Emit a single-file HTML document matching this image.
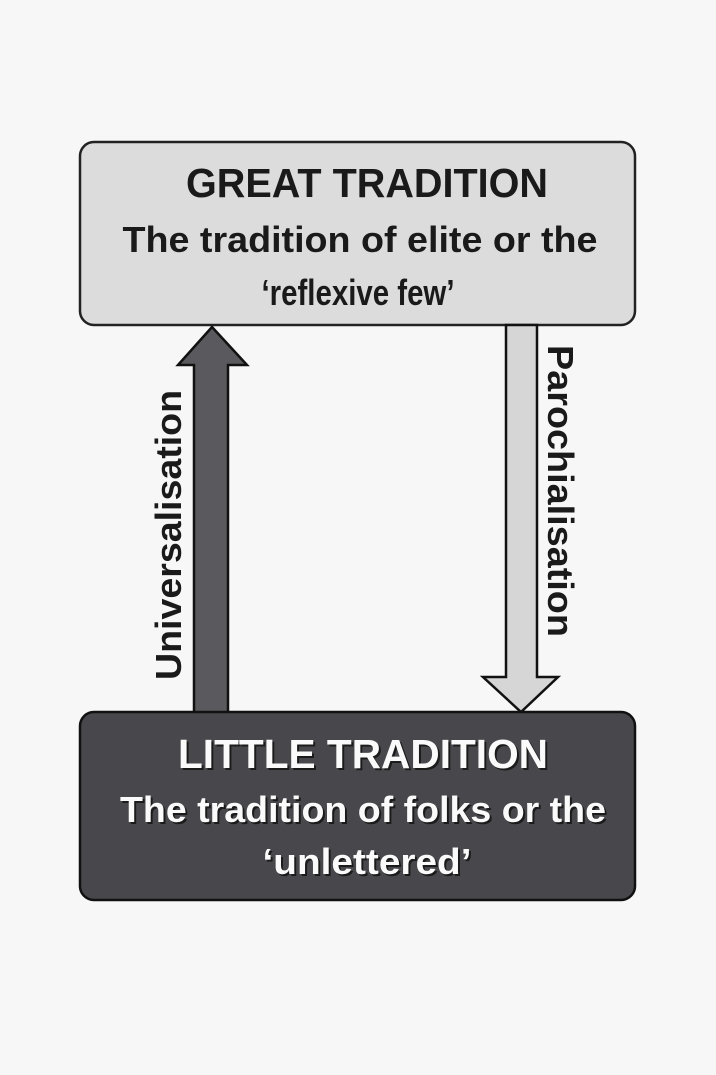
<!DOCTYPE html>
<html><head><meta charset="utf-8"><style>
html,body{margin:0;padding:0;background:#f7f7f7;}
svg{display:block;}
text{font-family:"Liberation Sans",sans-serif;font-weight:bold;}
</style></head><body>
<svg width="716" height="1075" viewBox="0 0 716 1075" xmlns="http://www.w3.org/2000/svg">
<rect width="716" height="1075" fill="#f7f7f7"/>
<!-- top box -->
<rect x="80" y="142" width="555" height="183" rx="14" fill="#dcdcdc" stroke="#222" stroke-width="2.5"/>
<text x="367" y="197" font-size="41" text-anchor="middle" fill="#1a1a1a" textLength="362" lengthAdjust="spacingAndGlyphs">GREAT TRADITION</text>
<text x="360" y="252" font-size="36" text-anchor="middle" fill="#1a1a1a" textLength="475" lengthAdjust="spacingAndGlyphs">The tradition of elite or the</text>
<text x="358" y="305" font-size="36" text-anchor="middle" fill="#1a1a1a" textLength="193" lengthAdjust="spacingAndGlyphs">‘reflexive few’</text>
<!-- up arrow -->
<polygon points="194,713 194,365 178,365 212,327 247,365 228,365 228,713" fill="#5a5a5e" stroke="#111" stroke-width="2.5"/>
<!-- down arrow -->
<polygon points="506,325 506,677 483,677 521,712 558,677 537,677 537,325" fill="#d6d6d6" stroke="#111" stroke-width="2.5"/>
<!-- bottom box -->
<rect x="80" y="712" width="555" height="188" rx="14" fill="#48484c" stroke="#111" stroke-width="2.5"/>
<g fill="#111" opacity="0.8">
<text x="365" y="770" font-size="41" text-anchor="middle" textLength="370" lengthAdjust="spacingAndGlyphs">LITTLE TRADITION</text>
<text x="365" y="824" font-size="36" text-anchor="middle" textLength="486" lengthAdjust="spacingAndGlyphs">The tradition of folks or the</text>
<text x="369" y="876" font-size="36" text-anchor="middle" textLength="209" lengthAdjust="spacingAndGlyphs">‘unlettered’</text>
</g>
<g fill="#fafafa">
<text x="363" y="768" font-size="41" text-anchor="middle" textLength="370" lengthAdjust="spacingAndGlyphs">LITTLE TRADITION</text>
<text x="363" y="822" font-size="36" text-anchor="middle" textLength="486" lengthAdjust="spacingAndGlyphs">The tradition of folks or the</text>
<text x="367" y="874" font-size="36" text-anchor="middle" textLength="209" lengthAdjust="spacingAndGlyphs">‘unlettered’</text>
</g>
<!-- labels -->
<text transform="translate(181,535) rotate(-90)" font-size="36" text-anchor="middle" fill="#1a1a1a" textLength="290" lengthAdjust="spacingAndGlyphs">Universalisation</text>
<text transform="translate(548,491) rotate(90)" font-size="36" text-anchor="middle" fill="#1a1a1a" textLength="292" lengthAdjust="spacingAndGlyphs">Parochialisation</text>
</svg>
</body></html>
